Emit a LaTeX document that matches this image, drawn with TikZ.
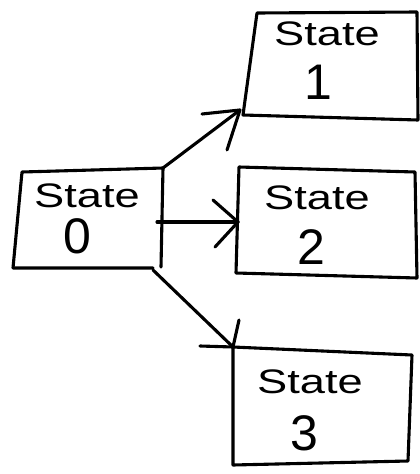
\documentclass[tikz,border=0pt]{standalone}
\usepackage{fontspec}
\setmainfont{Liberation Sans}
\begin{document}
\begin{tikzpicture}[x=1pt,y=-1pt,
  ink/.style={line width=3.1pt,line cap=round,line join=round,black},
  word/.style={font=\fontsize{34}{34}\selectfont,xscale=1.33,inner sep=0pt},
  digit/.style={font=\fontsize{50}{50}\selectfont,inner sep=0pt}]
\useasboundingbox (0,0) rectangle (420,474);

% box outlines (corner coordinates)
\coordinate (a0) at (22,172);  \coordinate (b0) at (163,168);
\coordinate (c0) at (161,267); \coordinate (d0) at (13,268);
\coordinate (a1) at (257,13);  \coordinate (b1) at (417,12);
\coordinate (c1) at (418,120); \coordinate (d1) at (243,115);
\coordinate (a2) at (239,167); \coordinate (b2) at (415,172);
\coordinate (c2) at (417,278); \coordinate (d2) at (236,273);
\coordinate (a3) at (233,347); \coordinate (b3) at (412,355);
\coordinate (c3) at (408,461); \coordinate (d3) at (233,465);

\draw[ink] (a0) -- (b0) -- (c0) (d0) -- (a0) (d0) -- (153,268);
\draw[ink] (a1) -- (b1) -- (c1) -- (d1) -- cycle;
\draw[ink] (a2) -- (b2) -- (c2) -- (d2) -- cycle;
\draw[ink] (a3) -- (b3) -- (c3) -- (d3) -- cycle;

% labels
\node[word]  (w0) at (87,196)  {State};
\node[digit] (n0) at (77,236)  {0};
\node[word]  (w1) at (327,34)  {State};
\node[digit] (n1) at (318,82)  {1};
\node[word]  (w2) at (317,198) {State};
\node[digit] (n2) at (311,247) {2};
\node[word]  (w3) at (310,382) {State};
\node[digit] (n3) at (304,433) {3};

% transitions from state 0
\coordinate (s1) at (163,168); \coordinate (t1) at (240,110);
\coordinate (s2) at (157,222); \coordinate (t2) at (238,222);
\coordinate (s3) at (153,270); \coordinate (t3) at (233,347);

\draw[ink] (s1) -- (t1);
\draw[ink] (202,114) -- (t1) -- (227,150);
\draw[ink] (s2) -- (t2);
\draw[ink] (213,200) -- (t2) -- (215,247);
\draw[ink] (s3) -- (t3);
\draw[ink] (200,346) -- (t3) -- (239,320);
\end{tikzpicture}
\end{document}
